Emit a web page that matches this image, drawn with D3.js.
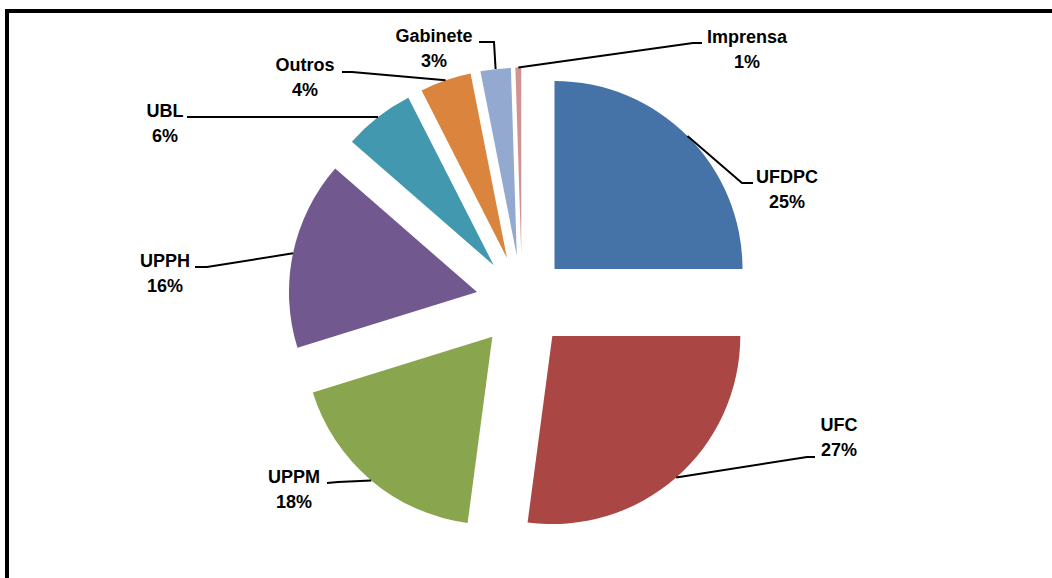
<!DOCTYPE html>
<html>
<head>
<meta charset="utf-8">
<script src="https://cdn.jsdelivr.net/npm/d3@7"></script>
<style>
body{margin:0;background:#fff;}
svg{display:block;}
</style>
</head>
<body>
<div id="chart"></div>
<script>
// data
var categories = ["UFDPC", "UFC", "UPPM", "UPPH", "UBL", "Outros", "Gabinete", "Imprensa"];
var shares = [25, 27.1, 18.1, 16.2, 6.1, 4.4, 2.6, 0.5];
var colors = ["#4572A7", "#AA4643", "#89A54E", "#71588F", "#4198AF", "#DB843D", "#93A9CF", "#D19392"];

// label layout: text centre x, first baseline y, leader points from slice to label
var labelLayout = [
  {x: 787, y: 183, pts: [[742, 183], [753, 183]]},
  {x: 839, y: 431, pts: [[807, 457], [815, 457]]},
  {x: 294, y: 483, pts: [[338, 482], [327, 483]]},
  {x: 165, y: 267, pts: [[207, 267], [195, 267]]},
  {x: 165, y: 117, pts: [[187, 117]]},
  {x: 305, y: 71, pts: [[352, 72], [342, 72]]},
  {x: 434, y: 42, pts: [[494, 42], [479, 42]]},
  {x: 747, y: 43, pts: [[693, 43], [702, 43]]}
];

var W = 1052, H = 578;
var cx = 522, cy = 301.5, radius = 188, explode = 46;

var svg = d3.select("#chart").append("svg").attr("width", W).attr("height", H);

// frame (top + left edges only are visible)
svg.append("path")
  .attr("d", "M7,578V11H1052")
  .attr("fill", "none")
  .attr("stroke", "#000")
  .attr("stroke-width", 4);

var pie = d3.pie().sort(null).value(function(d) { return d; });
var arc = d3.arc().innerRadius(0).outerRadius(radius);
var arcs = pie(shares);

var g = svg.append("g").attr("transform", "translate(" + cx + "," + cy + ")");

function mid(d) { return (d.startAngle + d.endAngle) / 2; }

g.selectAll(".slice")
  .data(arcs)
  .enter().append("path")
  .attr("class", "slice")
  .attr("transform", function(d) {
    var a = mid(d);
    return "translate(" + (explode * Math.sin(a)) + "," + (-explode * Math.cos(a)) + ")";
  })
  .attr("d", arc)
  .attr("fill", function(d, i) { return colors[i]; });

// leader lines
var line = d3.line();
svg.selectAll(".leader")
  .data(arcs)
  .enter().append("path")
  .attr("class", "leader")
  .attr("d", function(d, i) {
    var a = mid(d), rr = explode + radius;
    var start = [cx + rr * Math.sin(a), cy - rr * Math.cos(a)];
    return line([start].concat(labelLayout[i].pts));
  })
  .attr("fill", "none")
  .attr("stroke", "#000")
  .attr("stroke-width", 2);

// labels
var lab = svg.selectAll(".lab")
  .data(arcs)
  .enter().append("text")
  .attr("class", "lab")
  .attr("text-anchor", "middle")
  .style("font-family", "'Liberation Sans', Arial, sans-serif")
  .style("font-weight", "bold")
  .style("font-size", "18px")
  .attr("fill", "#000");

lab.append("tspan")
  .attr("x", function(d, i) { return labelLayout[i].x; })
  .attr("y", function(d, i) { return labelLayout[i].y; })
  .text(function(d, i) { return categories[i]; });

lab.append("tspan")
  .attr("x", function(d, i) { return labelLayout[i].x; })
  .attr("y", function(d, i) { return labelLayout[i].y + 25; })
  .text(function(d) { return Math.round(d.value) + "%"; });
</script>
</body>
</html>
